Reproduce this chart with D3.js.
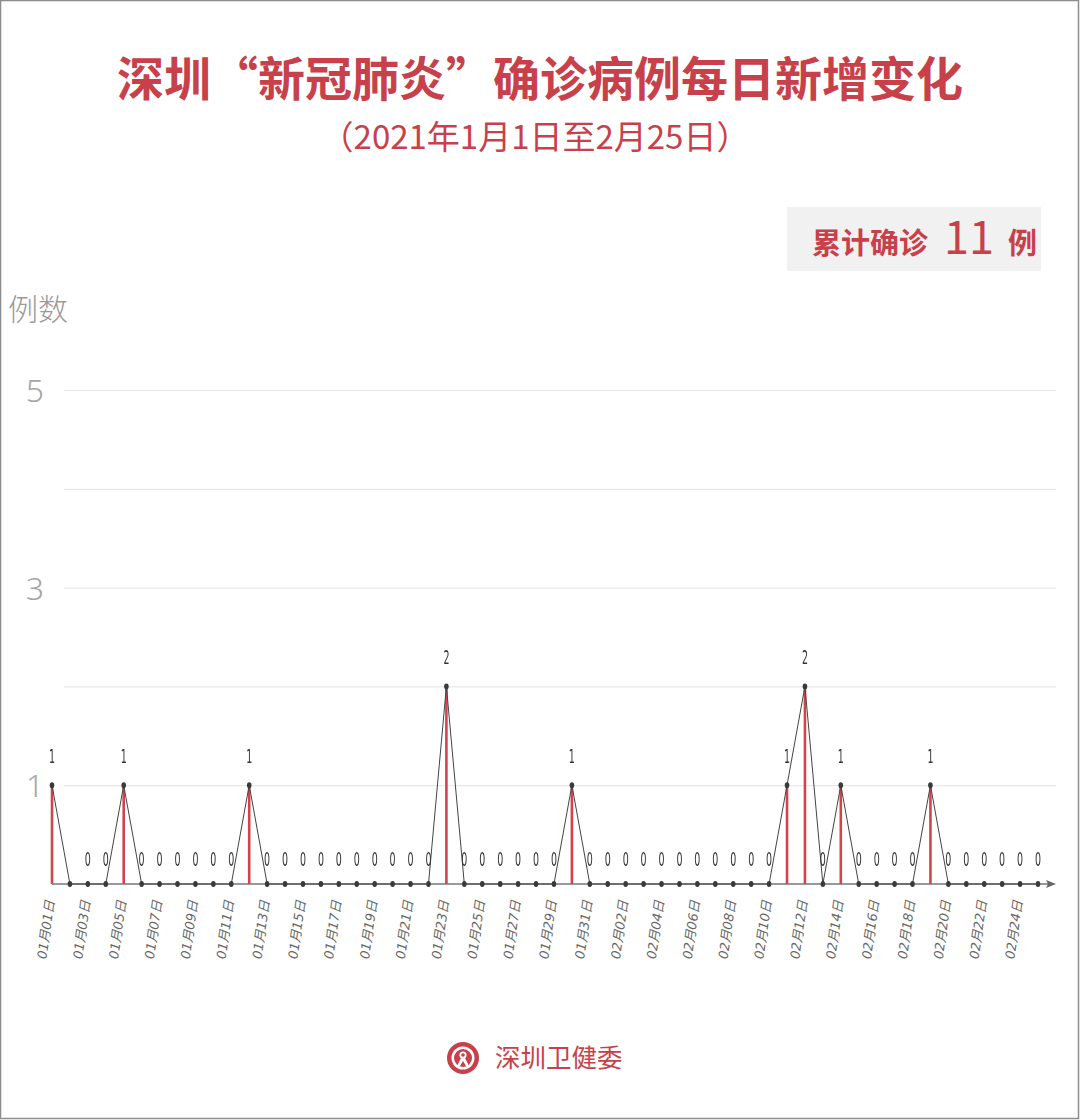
<!DOCTYPE html>
<html><head><meta charset="utf-8">
<script src="https://cdn.jsdelivr.net/npm/d3@7/dist/d3.min.js"></script>
<style>
html,body{margin:0;padding:0;background:#fff;}
svg{display:block;}
</style></head>
<body>
<svg id="chart" width="1080" height="1120"></svg>
<script>
const titleText = "深圳“新冠肺炎”确诊病例每日新增变化";
const subtitleText = "（2021年1月1日至2月25日）";
const badgeLabel = "累计确诊";
const badgeTotal = "11";
const badgeUnit = "例";
const yAxisTitle = "例数";
const footerText = "深圳卫健委";

const dates = [
 "01月01日","01月02日","01月03日","01月04日","01月05日","01月06日","01月07日","01月08日","01月09日","01月10日",
 "01月11日","01月12日","01月13日","01月14日","01月15日","01月16日","01月17日","01月18日","01月19日","01月20日",
 "01月21日","01月22日","01月23日","01月24日","01月25日","01月26日","01月27日","01月28日","01月29日","01月30日",
 "01月31日","02月01日","02月02日","02月03日","02月04日","02月05日","02月06日","02月07日","02月08日","02月09日",
 "02月10日","02月11日","02月12日","02月13日","02月14日","02月15日","02月16日","02月17日","02月18日","02月19日",
 "02月20日","02月21日","02月22日","02月23日","02月24日","02月25日"
];
const newCases = [
 1,0,0,0,1,0,0,0,0,0,
 0,1,0,0,0,0,0,0,0,0,
 0,0,2,0,0,0,0,0,0,1,
 0,0,0,0,0,0,0,0,0,0,
 0,1,2,0,1,0,0,0,0,1,
 0,0,0,0,0,0
];
const yTicks = [1,2,3,4,5];
const yTickLabels = [1,3,5];
const hiddenValueLabels = ["01月02日"];

const RED = "#c8414a";
const svg = d3.select("#chart");
const W = 1080, H = 1120;

// frame
svg.append("rect").attr("x",0.5).attr("y",0.5).attr("width",W-2).attr("height",H-2)
  .attr("fill","#fff").attr("stroke","#8c8c8c").attr("stroke-width",1.5);

// title
svg.append("text").attr("x",540).attr("y",96).attr("text-anchor","middle")
  .attr("font-family","'Noto Sans CJK SC'").attr("font-weight",700).attr("font-size",47)
  .attr("fill",RED).text(titleText);
svg.append("text").attr("x",535).attr("y",149).attr("text-anchor","middle")
  .attr("font-family","'Noto Sans CJK SC'").attr("font-weight",400).attr("font-size",33)
  .attr("fill",RED).text(subtitleText);

// badge
svg.append("rect").attr("x",787).attr("y",207).attr("width",254).attr("height",64).attr("fill","#f1f1f1");
const bt = svg.append("text").attr("x",812).attr("y",254)
  .attr("font-family","'Noto Sans CJK SC'").attr("fill",RED);
bt.append("tspan").attr("font-size",29).attr("font-weight",700).text(badgeLabel);
bt.append("tspan").attr("dx",16).attr("font-size",45).attr("font-weight",400).attr("font-family","'Noto Sans CJK SC'").text(badgeTotal);
bt.append("tspan").attr("dx",14).attr("font-size",29).attr("font-weight",700).text(badgeUnit);

// y axis title
svg.append("text").attr("x",8).attr("y",320)
  .attr("font-family","'Noto Sans CJK SC'").attr("font-size",30).attr("font-weight",300)
  .attr("fill","#9a9a9a").text(yAxisTitle);

// scales
const x = d3.scalePoint().domain(dates).range([52, 1038]);
const y = d3.scaleLinear().domain([0,5]).range([884, 390]);

// grid
const grid = d3.axisLeft(y).tickValues(yTicks).tickSize(-(1056-64)).tickFormat("");
svg.append("g").attr("transform","translate(64,0)").call(grid)
  .call(g=>g.select(".domain").remove())
  .call(g=>g.selectAll(".tick line").attr("stroke","#e3e3e3").attr("stroke-width",1));

// y tick labels
svg.append("g").selectAll("text").data(yTickLabels).join("text")
  .attr("x",44).attr("y",d=>y(d)+12).attr("text-anchor","end")
  .attr("font-family","'Noto Sans', 'DejaVu Sans'").attr("font-weight",300).attr("font-size",32)
  .attr("fill","#a6a6a6").text(d=>d);

// x axis
const xAxis = d3.axisBottom(x).tickSize(0).tickValues(dates.filter((d,i)=>i%2===0));
const xg = svg.append("g").attr("transform",`translate(0,${y(0)})`).call(xAxis);
xg.select(".domain").remove();
xg.selectAll(".tick text")
  .attr("font-family","'DejaVu Sans', 'Noto Sans CJK SC'").attr("font-size",13)
  .attr("font-style","italic").attr("fill","#666")
  .attr("text-anchor","end").attr("dy",null).attr("y",0)
  .attr("transform","translate(2,17) rotate(-82)");

svg.append("line").attr("x1",52).attr("x2",1050).attr("y1",y(0)).attr("y2",y(0))
  .attr("stroke","#777").attr("stroke-width",1.5);
svg.append("path").attr("d",`M1056,${y(0)} L1046,${y(0)-4} L1048,${y(0)} L1046,${y(0)+4} Z`).attr("fill","#666");

const data = dates.map((d,i)=>({date:d, v:newCases[i]}));

// red bars
svg.append("g").selectAll("line").data(data.filter(d=>d.v>0)).join("line")
  .attr("x1",d=>x(d.date)).attr("x2",d=>x(d.date))
  .attr("y1",y(0)).attr("y2",d=>y(d.v))
  .attr("stroke","#d2434d").attr("stroke-width",2.6);

// line
svg.append("path").datum(data)
  .attr("d", d3.line().x(d=>x(d.date)).y(d=>y(d.v)))
  .attr("fill","none").attr("stroke","#444").attr("stroke-width",1);

// dots
svg.append("g").selectAll("ellipse").data(data).join("ellipse")
  .attr("cx",d=>x(d.date)).attr("cy",d=>y(d.v)).attr("rx",2.3).attr("ry",3)
  .attr("fill","#3a3a3a");

// value labels
svg.append("g").attr("opacity",0.99).style("will-change","transform")
  .selectAll("text").data(data.filter(d=>!hiddenValueLabels.includes(d.date))).join("text")
  .attr("transform",d=>`translate(${x(d.date)},${y(d.v)-(d.v>0?22:18)}) scale(0.5,1)`)
  .attr("text-anchor","middle")
  .attr("font-family","'Liberation Sans Narrow','DejaVu Sans'").attr("font-size",19)
  .attr("fill","#333").text(d=>d.v);

// footer emblem
const em = svg.append("g").attr("transform","translate(463,1058)");
em.append("circle").attr("r",16).attr("fill",RED);
em.append("circle").attr("r",11.5).attr("fill","#fff");
em.append("circle").attr("r",9).attr("fill",RED);
em.append("circle").attr("cy",-3).attr("r",3.6).attr("fill","#fff");
em.append("path").attr("d","M-6,8 L-2,0 L2,0 L6,8 L3,8 L0,3 L-3,8 Z").attr("fill","#fff");
em.append("circle").attr("cy",-3).attr("r",1.8).attr("fill",RED);
svg.append("text").attr("x",495).attr("y",1067)
  .attr("font-family","'Noto Sans CJK SC'").attr("font-size",25.5).attr("font-weight",400)
  .attr("fill",RED).text(footerText);
</script>
</body></html>
